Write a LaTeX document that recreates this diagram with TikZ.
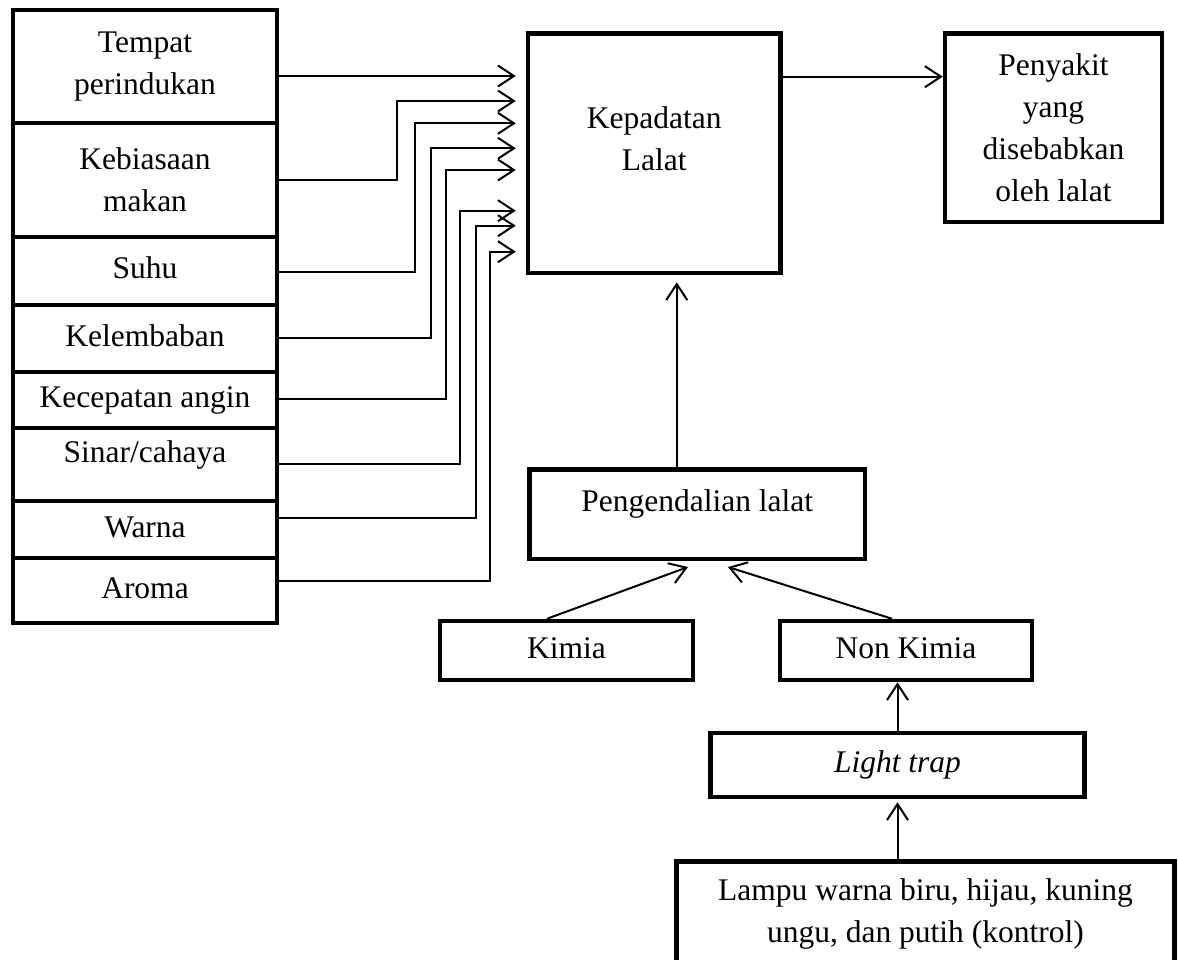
\documentclass[tikz,border=0pt]{standalone}
\usepackage{fontspec}
\setmainfont{Liberation Serif}
\usetikzlibrary{arrows.meta}
\tikzset{
  x=1pt, y=-1pt,
  fnt/.style={font=\fontsize{31.5}{42}\selectfont},
  box/.style={draw, line width=4.5pt, inner sep=0pt, align=center, fnt},
  one/.style={text height=22pt, text depth=6.9pt},
  txt/.style={inner sep=0pt, align=center, fnt},
  conn/.style={line width=2pt},
  arr/.style={conn, -{Straight Barb[length=16pt,width=21pt]}},
}
\begin{document}
\begin{tikzpicture}
\clip (0,0) rectangle (1178,960);
\fill[white] (0,0) rectangle (1178,960);

% left column
\node[box, minimum width=264pt, minimum height=113pt] (k1) at (145,66.5) {Tempat\\perindukan};
\node[box, minimum width=264pt, minimum height=114pt] (k2) at (145,180) {Kebiasaan\\makan};
\node[box, one, minimum width=264pt, minimum height=68pt] (k3) at (145,271) {Suhu};
\node[box, one, minimum width=264pt, minimum height=67pt] (k4) at (145,338.5) {Kelembaban};
\node[box, one, minimum width=264pt, minimum height=56pt] (k5) at (145,400) {Kecepatan angin};
\node[box, one, text depth=27pt, minimum width=264pt, minimum height=73pt] (k6) at (145,464.5) {Sinar/cahaya};
\node[box, one, minimum width=264pt, minimum height=57pt] (k7) at (145,529.5) {Warna};
\node[box, one, minimum width=264pt, minimum height=65pt] (k8) at (145,590.5) {Aroma};

% main boxes
\node[box, minimum width=252.5pt, minimum height=239.5pt] (kep) at (654.25,153.25) {};
\node[txt] (keptxt) at ([yshift=14.25pt]kep.center) {Kepadatan\\Lalat};
\node[box, minimum width=217pt, minimum height=188.5pt] (pen) at (1053.5,127.75) {Penyakit\\yang\\disebabkan\\oleh lalat};
\node[box, one, text depth=27.5pt, minimum width=335.5pt, minimum height=89.5pt] (peng) at (697.25,514.25) {Pengendalian lalat};
\node[box, one, minimum width=253pt, minimum height=59pt] (kimia) at (566.5,650.5) {Kimia};
\node[box, one, minimum width=252pt, minimum height=59pt] (nonk) at (906,650.5) {Non Kimia};
\node[box, one, minimum width=374pt, minimum height=64pt] (light) at (897.5,765) {\itshape Light trap};
\node[box, minimum width=498pt, minimum height=105pt] (lampu) at (925.5,914) {Lampu warna biru, hijau, kuning\\ungu, dan putih (kontrol)};

% connectors from left column
\draw[arr, shorten >=10pt] (k1.east |- 0,76) -- (kep.west |- 0,76);
\draw[arr, shorten >=10pt] (k2.east |- 0,180) -| (396.7,101) -- (kep.west |- 0,101);
\draw[arr, shorten >=10pt] (k3.east |- 0,272) -| (415,123.3) -- (kep.west |- 0,123.3);
\draw[arr, shorten >=10pt] (k4.east |- 0,338) -| (431,148.3) -- (kep.west |- 0,148.3);
\draw[arr, shorten >=10pt] (k5.east |- 0,399) -| (446,170) -- (kep.west |- 0,170);
\draw[arr, shorten >=10pt] (k6.east |- 0,464) -| (460,210.7) -- (kep.west |- 0,210.7);
\draw[arr, shorten >=10pt] (k7.east |- 0,518) -| (476,225.7) -- (kep.west |- 0,225.7);
\draw[arr, shorten >=10pt] (k8.east |- 0,581) -| (490,251.7) -- (kep.west |- 0,251.7);

% other connectors
\draw[arr] (kep.east |- 0,76.7) -- (pen.west |- 0,76.7);
\draw[arr, shorten >=7pt] ([xshift=-20.5pt]peng.north) -- ([xshift=-20.5pt]peng.north |- kep.south);
\draw[arr] ([xshift=-19.5pt]kimia.north) -- ([xshift=-9.25pt,yshift=-5.75pt]peng.south);
\draw[arr] ([xshift=-14pt]nonk.north) -- ([xshift=30.75pt,yshift=-5.75pt]peng.south);
\draw[arr] (light.north) -- (light.north |- nonk.south);
\draw[arr, shorten >=3pt] (lampu.north -| light.south) -- (light.south);
\end{tikzpicture}
\end{document}
